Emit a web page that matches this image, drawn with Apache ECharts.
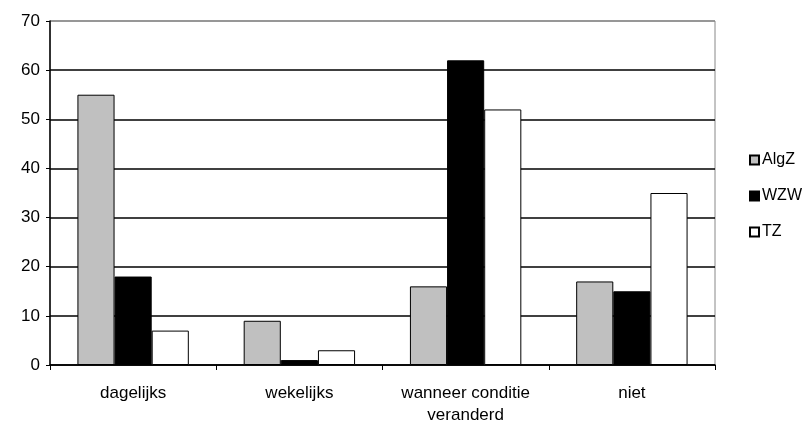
<!DOCTYPE html>
<html><head><meta charset="utf-8">
<script src="https://cdn.jsdelivr.net/npm/echarts@6/dist/echarts.min.js"></script>
<style>html,body{margin:0;padding:0;background:#fff}#c{width:805px;height:432px}</style>
</head><body><div id="c"></div>
<script>
var categories = ['dagelijks', 'wekelijks', 'wanneer conditie\nveranderd', 'niet'];
var seriesNames = ['AlgZ', 'WZW', 'TZ'];
var algz = [55, 9, 16, 17];
var wzw = [18, 1, 62, 15];
var tz = [7, 3, 52, 35];
var yTicks = [0, 10, 20, 30, 40, 50, 60, 70];

var font = 'Liberation Sans, Arial, sans-serif';
var chart = echarts.init(document.getElementById('c'), null, {renderer: 'canvas'});
function bar(name, data, color) {
  return {
    name: name, type: 'bar', data: data,
    barGap: '0%', barCategoryGap: '33%',
    itemStyle: {color: color, borderColor: '#000', borderWidth: 1},
    emphasis: {disabled: true}
  };
}
chart.setOption({
  animation: false,
  grid: {left: 50, top: 21, right: 90, bottom: 67, show: true, borderColor: '#888', borderWidth: 1},
  legend: {
    orient: 'vertical', left: 744, top: 147, itemGap: 20,
    icon: 'rect', itemWidth: 9, itemHeight: 9,
    textStyle: {fontFamily: font, fontSize: 16, color: '#000', padding: [0, 0, 0, -2]},
    data: seriesNames
  },
  xAxis: {
    type: 'category', data: categories,
    axisLine: {lineStyle: {color: '#000', width: 1.5}},
    axisTick: {show: true, interval: 0, length: 5, lineStyle: {color: '#000'}},
    axisLabel: {interval: 0, fontFamily: font, fontSize: 17, color: '#000', margin: 17, lineHeight: 22}
  },
  yAxis: {
    type: 'value', min: yTicks[0], max: yTicks[yTicks.length - 1], interval: 10,
    axisLine: {show: true, lineStyle: {color: '#000', width: 1.5}},
    axisTick: {show: true, length: 4, lineStyle: {color: '#000'}},
    axisLabel: {fontFamily: font, fontSize: 17, color: '#000', margin: 10},
    splitLine: {show: true, lineStyle: {color: ['#000','#000','#000','#000','#000','#000','#000','#888'], width: 1.5}}
  },
  series: [bar(seriesNames[0], algz, '#c0c0c0'), bar(seriesNames[1], wzw, '#000000'), bar(seriesNames[2], tz, '#ffffff')]
});
</script></body></html>
